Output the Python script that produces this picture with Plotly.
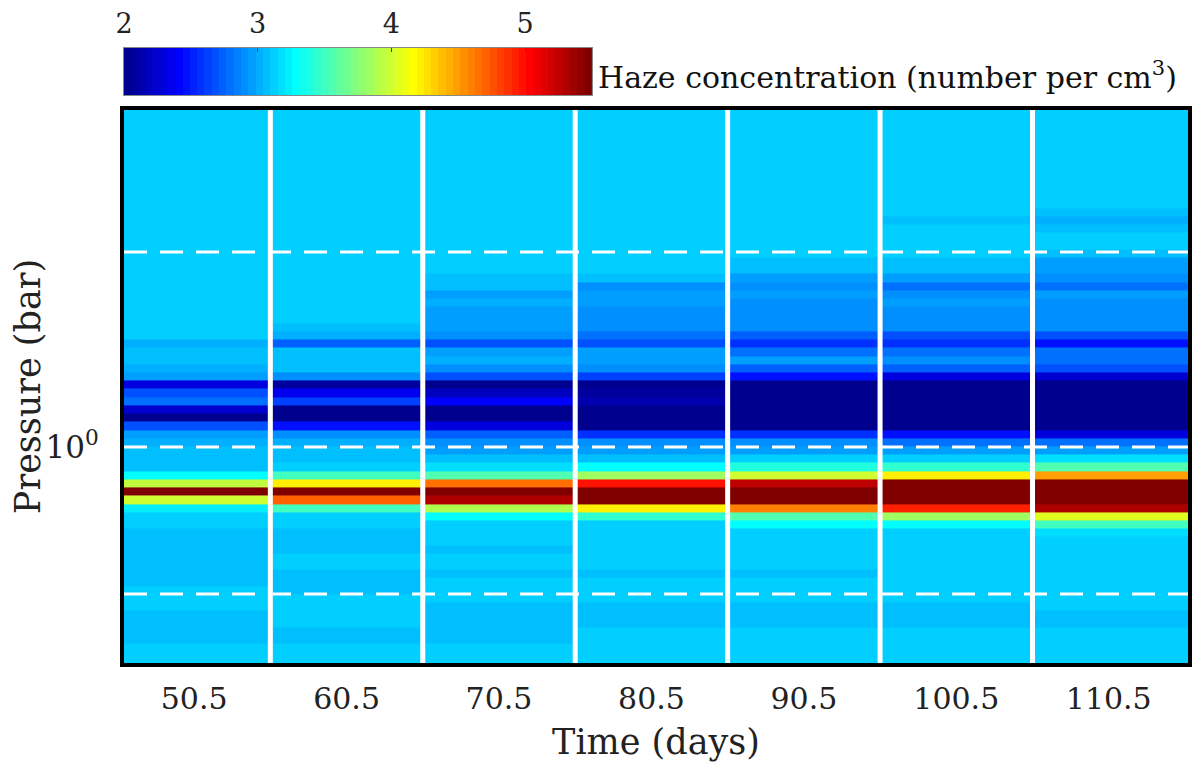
import numpy as np
import plotly.graph_objects as go

# time bins (days): each column is a 10-day window
time_labels = [50.5, 60.5, 70.5, 80.5, 90.5, 100.5, 110.5]
time_edges = [45.5, 55.5, 65.5, 75.5, 85.5, 95.5, 105.5, 116.0]

# model pressure levels, log10(bar), top of atmosphere first
logp_top = -1.731
dlogp = 0.04215
n_levels = 68
logp_edges = logp_top + dlogp * np.arange(n_levels + 1)
dashed_levels = [-1.0, 0.0, 0.754]

# log10 haze concentration per level
haze_50 = [3.14, 3.14, 3.14, 3.14, 3.14, 3.14, 3.14, 3.14, 3.14, 3.14,
           3.14, 3.14, 3.14, 3.14, 3.14, 3.14, 3.14, 3.14, 3.14, 3.14,
           3.14, 3.14, 3.14, 3.14, 3.14, 3.14, 3.14, 3.14, 3.00, 3.09,
           3.09, 3.02, 2.95, 2.30, 2.66, 2.80, 2.27, 2.04, 2.66, 2.95,
           3.00, 3.09, 3.09, 3.09, 3.31, 3.92, 5.50, 4.02, 3.25, 3.13,
           3.13, 3.09, 3.09, 3.09, 3.09, 3.09, 3.09, 3.09, 3.12, 3.12,
           3.12, 3.08, 3.08, 3.08, 3.08, 3.14, 3.14, 3.14]
haze_60 = [3.14, 3.14, 3.14, 3.14, 3.14, 3.14, 3.14, 3.14, 3.14, 3.14,
           3.14, 3.14, 3.14, 3.14, 3.14, 3.14, 3.14, 3.14, 3.14, 3.14,
           3.14, 3.14, 3.14, 3.14, 3.14, 3.14, 3.09, 3.00, 2.72, 3.09,
           3.09, 3.06, 2.88, 2.06, 2.35, 2.62, 2.05, 2.04, 2.44, 2.88,
           3.02, 3.06, 3.09, 3.12, 3.49, 4.22, 5.50, 4.72, 3.49, 3.12,
           3.12, 3.09, 3.09, 3.09, 3.13, 3.13, 3.09, 3.09, 3.09, 3.12,
           3.12, 3.12, 3.12, 3.09, 3.09, 3.14, 3.14, 3.14]
haze_70 = [3.14, 3.14, 3.14, 3.14, 3.14, 3.14, 3.14, 3.14, 3.14, 3.14,
           3.14, 3.14, 3.14, 3.14, 3.14, 3.14, 3.14, 3.14, 3.14, 3.14,
           3.09, 3.05, 2.95, 3.02, 2.95, 2.95, 2.95, 2.88, 2.68, 2.95,
           3.00, 2.88, 2.66, 2.05, 2.18, 2.40, 2.04, 2.04, 2.30, 2.72,
           2.88, 2.95, 3.09, 3.15, 3.55, 4.63, 5.50, 5.30, 3.88, 3.27,
           3.14, 3.14, 3.14, 3.09, 3.14, 3.14, 3.09, 3.12, 3.12, 3.12,
           3.09, 3.09, 3.09, 3.09, 3.09, 3.12, 3.12, 3.12]
haze_80 = [3.14, 3.14, 3.14, 3.14, 3.14, 3.14, 3.14, 3.14, 3.14, 3.14,
           3.14, 3.14, 3.14, 3.14, 3.14, 3.14, 3.14, 3.14, 3.14, 3.14,
           3.08, 2.88, 2.93, 2.95, 2.92, 2.92, 2.92, 2.78, 2.66, 2.95,
           2.98, 2.88, 2.62, 2.04, 2.08, 2.14, 2.04, 2.04, 2.05, 2.58,
           2.88, 2.95, 3.05, 3.31, 3.82, 4.96, 5.50, 5.50, 4.19, 3.45,
           3.14, 3.14, 3.14, 3.14, 3.14, 3.14, 3.09, 3.12, 3.12, 3.12,
           3.09, 3.09, 3.09, 3.14, 3.14, 3.14, 3.14, 3.14]
haze_90 = [3.14, 3.14, 3.14, 3.14, 3.14, 3.14, 3.14, 3.14, 3.14, 3.14,
           3.14, 3.14, 3.14, 3.14, 3.14, 3.14, 3.14, 3.14, 3.09, 3.06,
           2.95, 2.88, 2.95, 2.88, 2.88, 2.88, 2.88, 2.72, 2.58, 2.82,
           2.95, 2.72, 2.44, 2.04, 2.04, 2.04, 2.04, 2.04, 2.04, 2.55,
           2.88, 2.95, 3.14, 3.40, 4.00, 5.28, 5.50, 5.50, 4.58, 3.55,
           3.27, 3.14, 3.14, 3.14, 3.14, 3.14, 3.09, 3.14, 3.14, 3.14,
           3.09, 3.09, 3.09, 3.14, 3.14, 3.14, 3.14, 3.14]
haze_100 = [3.14, 3.14, 3.14, 3.14, 3.14, 3.14, 3.14, 3.14, 3.14, 3.14,
            3.14, 3.14, 3.14, 3.08, 3.14, 3.14, 3.14, 3.13, 3.08, 3.06,
            2.98, 2.82, 2.88, 2.95, 2.88, 2.88, 2.88, 2.66, 2.55, 2.82,
            2.88, 2.72, 2.30, 2.04, 2.04, 2.04, 2.04, 2.04, 2.04, 2.44,
            2.82, 2.95, 3.14, 3.45, 4.22, 5.50, 5.50, 5.50, 4.92, 3.85,
            3.27, 3.14, 3.14, 3.14, 3.14, 3.14, 3.12, 3.14, 3.14, 3.14,
            3.09, 3.09, 3.09, 3.14, 3.14, 3.14, 3.14, 3.14]
haze_110 = [3.14, 3.14, 3.14, 3.14, 3.14, 3.14, 3.14, 3.14, 3.14, 3.14,
            3.14, 3.14, 3.06, 3.02, 3.09, 3.13, 3.13, 3.06, 2.95, 2.95,
            2.92, 2.82, 2.95, 2.88, 2.88, 2.88, 2.88, 2.66, 2.44, 2.78,
            2.82, 2.66, 2.25, 2.04, 2.04, 2.04, 2.04, 2.04, 2.04, 2.30,
            2.78, 2.95, 3.20, 3.55, 4.48, 5.50, 5.50, 5.50, 5.30, 4.06,
            3.50, 3.20, 3.14, 3.14, 3.14, 3.14, 3.14, 3.14, 3.14, 3.14,
            3.14, 3.09, 3.09, 3.14, 3.14, 3.14, 3.14, 3.14]

cmin, cmax = 2.0, 5.5
cbar_ticks = [2, 3, 4, 5]


def jet64():
    # matlab's jet(64), as a stepped plotly colorscale
    n = 16
    u = np.concatenate([np.arange(1, n + 1) / n, np.ones(n - 1), np.arange(n, 0, -1) / n])
    g = 8 + np.arange(1, len(u) + 1)
    cols = np.zeros((64, 3))
    for ch, idx in enumerate([g + n, g, g - n]):
        ok = (idx >= 1) & (idx <= 64)
        cols[idx[ok] - 1, ch] = u[ok]
    scale = []
    for i, (r, gg, b) in enumerate(cols):
        c = f"rgb({int(round(r*255))},{int(round(gg*255))},{int(round(b*255))})"
        scale.append([i / 64, c])
        scale.append([(i + 1) / 64, c])
    return scale


jet = jet64()
z = np.column_stack([haze_50, haze_60, haze_70, haze_80, haze_90, haze_100, haze_110])

fig = go.Figure()
fig.add_trace(go.Heatmap(x=time_edges, y=logp_edges, z=z, colorscale=jet,
                         zmin=cmin, zmax=cmax, showscale=False, hoverinfo="skip"))

# colour bar drawn as its own little strip with the axis on top
cbar_edges = np.linspace(cmin, cmax, 65)
cbar_mid = (cbar_edges[:-1] + cbar_edges[1:]) / 2
fig.add_trace(go.Heatmap(x=cbar_edges, y=[0, 1], z=[cbar_mid], colorscale=jet,
                         zmin=cmin, zmax=cmax, showscale=False, hoverinfo="skip",
                         xaxis="x2", yaxis="y2"))

for t in time_edges[1:-1]:
    fig.add_shape(type="line", xref="x", yref="y domain", x0=t, x1=t, y0=0, y1=1,
                  line=dict(color="white", width=5))
for lv in dashed_levels:
    fig.add_shape(type="line", xref="x domain", yref="y", x0=0, x1=1, y0=lv, y1=lv,
                  line=dict(color="white", width=3, dash="23px,13px"))

font = "DejaVu Serif"
fig.add_annotation(text="Haze concentration (number per cm<sup>3</sup>)",
                   xref="paper", yref="paper", x=0.4436, y=0.956,
                   xanchor="left", yanchor="middle", showarrow=False,
                   font=dict(family=font, size=30, color="#111"))

fig.update_layout(
    width=1200, height=772,
    margin=dict(l=116, r=20, t=40, b=117),
    paper_bgcolor="white", plot_bgcolor="white",
    font=dict(family=font, color="#222"),
    xaxis=dict(range=[45.9, 115.7], tickvals=time_labels, automargin=False,
               ticktext=[str(t) for t in time_labels], ticks="",
               ticklabelstandoff=6,
               tickfont=dict(size=30), showline=True, linecolor="black",
               linewidth=4, mirror=True, showgrid=False, zeroline=False,
               title=dict(text="Time (days)", font=dict(size=35), standoff=15)),
    yaxis=dict(domain=[0, 0.8992], range=[1.108, -1.728], tickvals=[0],
               ticktext=["10<sup>0</sup>"], ticks="", ticklabelstandoff=15,
               tickfont=dict(size=31), showline=True, linecolor="black",
               linewidth=4, mirror=True, showgrid=False, zeroline=False,
               automargin=False,
               title=dict(text="Pressure (bar)", font=dict(size=35), standoff=9)),
    xaxis2=dict(domain=[0, 0.4398], anchor="y2", side="top", range=[cmin, cmax],
                tickvals=cbar_ticks, ticks="inside", ticklen=4, tickcolor="#444",
                ticklabelstandoff=3,
                tickfont=dict(size=27), showline=True, linecolor="#888",
                linewidth=1, mirror=True, showgrid=False, zeroline=False,
                automargin=False),
    yaxis2=dict(domain=[0.9228, 1], anchor="x2", range=[0, 1], showticklabels=False,
                showline=True, linecolor="#888", linewidth=1, mirror=True,
                showgrid=False, zeroline=False, automargin=False),
)

fig.write_html("out.html")
